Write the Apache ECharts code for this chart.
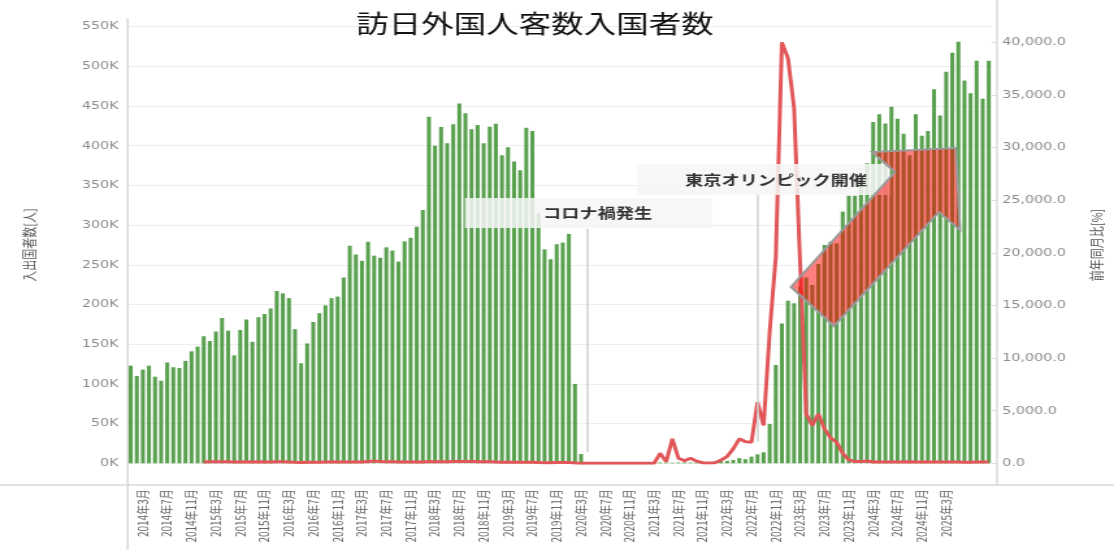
<!DOCTYPE html>
<html>
<head>
<meta charset="utf-8">
<script src="https://cdn.jsdelivr.net/npm/echarts@6/dist/echarts.min.js"></script>
<style>
  html, body { margin: 0; padding: 0; background: #fff; overflow: hidden; }
  /* 元画像は横に引き伸ばされているので、同じ比率で横に伸ばす */
  #main { width: 857px; height: 550px; transform: scaleX(1.2999); transform-origin: 0 0; }
</style>
</head>
<body>
<div id="main"></div>
<script>
// 月（カテゴリ）
const months = [
  '2014年1月','2014年2月','2014年3月','2014年4月','2014年5月','2014年6月','2014年7月','2014年8月','2014年9月','2014年10月','2014年11月','2014年12月',
  '2015年1月','2015年2月','2015年3月','2015年4月','2015年5月','2015年6月','2015年7月','2015年8月','2015年9月','2015年10月','2015年11月','2015年12月',
  '2016年1月','2016年2月','2016年3月','2016年4月','2016年5月','2016年6月','2016年7月','2016年8月','2016年9月','2016年10月','2016年11月','2016年12月',
  '2017年1月','2017年2月','2017年3月','2017年4月','2017年5月','2017年6月','2017年7月','2017年8月','2017年9月','2017年10月','2017年11月','2017年12月',
  '2018年1月','2018年2月','2018年3月','2018年4月','2018年5月','2018年6月','2018年7月','2018年8月','2018年9月','2018年10月','2018年11月','2018年12月',
  '2019年1月','2019年2月','2019年3月','2019年4月','2019年5月','2019年6月','2019年7月','2019年8月','2019年9月','2019年10月','2019年11月','2019年12月',
  '2020年1月','2020年2月','2020年3月','2020年4月','2020年5月','2020年6月','2020年7月','2020年8月','2020年9月','2020年10月','2020年11月','2020年12月',
  '2021年1月','2021年2月','2021年3月','2021年4月','2021年5月','2021年6月','2021年7月','2021年8月','2021年9月','2021年10月','2021年11月','2021年12月',
  '2022年1月','2022年2月','2022年3月','2022年4月','2022年5月','2022年6月','2022年7月','2022年8月','2022年9月','2022年10月','2022年11月','2022年12月',
  '2023年1月','2023年2月','2023年3月','2023年4月','2023年5月','2023年6月','2023年7月','2023年8月','2023年9月','2023年10月','2023年11月','2023年12月',
  '2024年1月','2024年2月','2024年3月','2024年4月','2024年5月','2024年6月','2024年7月','2024年8月','2024年9月','2024年10月','2024年11月','2024年12月',
  '2025年1月','2025年2月','2025年3月','2025年4月','2025年5月','2025年6月','2025年7月','2025年8月','2025年9月','2025年10月'
];

// 表示する目盛りラベル
const tickLabels = [
  '2014年3月','2014年7月','2014年11月','2015年3月','2015年7月','2015年11月','2016年3月','2016年7月','2016年11月',
  '2017年3月','2017年7月','2017年11月','2018年3月','2018年7月','2018年11月','2019年3月','2019年7月','2019年11月',
  '2020年3月','2020年7月','2020年11月','2021年3月','2021年7月','2021年11月','2022年3月','2022年7月','2022年11月',
  '2023年3月','2023年7月','2023年11月','2024年3月','2024年7月','2024年11月','2025年3月'
];

// 入出国者数 [人]
const visitors = [
  123000,110000,118000,123000,109000,104000,127000,121000,120000,129000,141000,147000,
  160000,154000,166000,183000,167000,136000,168000,181000,153000,184000,188000,195000,
  217000,214000,208000,169000,126000,151000,178000,189000,199000,208000,210000,234000,
  274000,263000,255000,279000,261500,259000,272000,268000,254000,279500,284000,298000,
  319000,436500,400000,423600,403000,427000,453000,441000,420600,426000,403000,424000,
  427700,388000,398000,380000,369000,422700,418500,315000,269500,257000,276000,278000,
  289000,100000,11700,300,250,300,400,500,600,700,600,500,
  500,400,500,1000,900,800,1000,1200,900,1100,1500,1600,
  2200,2500,3000,4200,6500,5200,8400,11300,13900,49500,123800,176000,
  204800,201500,223000,234000,224600,251000,275000,279000,277000,317000,337000,337000,
  360000,378000,430000,439500,428000,449000,434000,415000,388000,439500,412600,418500,
  471000,438000,493000,517000,531000,482000,466000,507000,459000,507000
];

// 前年同月比 [%]
const yoy = [
  null,null,null,null,null,null,null,null,null,null,null,null,
  130,140,141,149,153,131,132,150,128,143,133,133,
  136,139,125,92,75,111,106,104,130,113,112,120,
  126,123,123,165,207,172,153,142,128,134,135,127,
  116,166,157,152,154,165,167,165,166,153,142,142,
  134,89,100,90,92,99,92,71,64,60,68,66,
  68,26,3,0.1,0.1,0.1,0.1,0.1,0.1,0.2,0.2,0.1,
  0.2,0.3,4,950,150,2320,480,260,480,200,50,20,
  50,300,650,1370,2320,2060,2000,5810,3600,12500,19600,40000,
  38500,33800,19000,4700,3600,4700,3270,2420,2000,950,320,160,
  176,210,128,130,124,135,129,122,140,130,121,124,
  131,116,115,117,124,111,109,122,119,121
];

const chart = echarts.init(document.getElementById('main'));
const jp = "'Noto Sans CJK JP', sans-serif";

chart.setOption({
  animation: false,
  title: {
    text: '訪日外国人客数入国者数',
    left: 269,
    top: 6,
    textStyle: { fontSize: 25, fontWeight: 'normal', color: '#111', fontFamily: jp }
  },
  grid: { left: 98.2, right: 90.5, top: 26.6, bottom: 86.7 },
  xAxis: {
    type: 'category',
    data: months,
    axisLine: { show: false },
    axisTick: { show: false },
    axisLabel: {
      interval: function (i, v) { return tickLabels.indexOf(v) >= 0; },
      rotate: 90,
      margin: 26,
      fontSize: 10,
      color: '#666',
      fontFamily: jp
    }
  },
  yAxis: [{
    type: 'value',
    min: 0,
    max: 550000,
    interval: 50000,
    name: '入出国者数[人]',
    nameLocation: 'middle',
    nameRotate: 90,
    nameGap: 70,
    nameTextStyle: { fontSize: 11, color: '#555', fontFamily: jp },
    axisLine: { show: false },
    axisTick: { show: false },
    axisLabel: {
      margin: 7,
      fontSize: 11,
      color: '#8c8c8c',
      fontFamily: 'DejaVu Sans',
      formatter: function (v) { return (v / 1000) + 'K'; }
    },
    splitLine: { lineStyle: { color: '#eeeeee', width: 1 } }
  }, {
    type: 'value',
    min: 0,
    max: 41500,
    interval: 5000,
    position: 'right',
    name: '前年同月比[%]',
    nameLocation: 'middle',
    nameRotate: 90,
    nameGap: 75,
    nameTextStyle: { fontSize: 11, color: '#555', fontFamily: jp },
    axisLine: { show: false },
    axisTick: { show: true, length: 4, lineStyle: { color: '#dddddd' } },
    axisLabel: {
      margin: 8,
      fontSize: 11,
      color: '#8c8c8c',
      fontFamily: 'DejaVu Sans',
      showMaxLabel: false,
      formatter: function (v) {
        return v.toLocaleString('en-US', { minimumFractionDigits: 1, maximumFractionDigits: 1 });
      }
    },
    splitLine: { show: false }
  }],
  series: [{
    name: '入出国者数',
    type: 'bar',
    data: visitors,
    barCategoryGap: '35%',
    itemStyle: { color: '#59a14f' },
    markLine: {
      silent: true,
      symbol: 'none',
      label: { show: false },
      lineStyle: { color: '#d0d0d0', width: 1.5, type: 'solid' },
      data: [
        [{ coord: ['2020年4月', 295000] }, { coord: ['2020年4月', 14000] }],
        [{ coord: ['2022年8月', 338000] }, { coord: ['2022年8月', 27000] }]
      ]
    }
  }, {
    name: '前年同月比',
    type: 'line',
    yAxisIndex: 1,
    data: yoy,
    showSymbol: false,
    z: 3,
    lineStyle: { color: '#e15759', width: 3 },
    itemStyle: { color: '#e15759' }
  }],
  graphic: [
    // 枠線
    { type: 'line', shape: { x1: 98.2, y1: 18, x2: 98.2, y2: 550 }, style: { stroke: '#d9d9d9', lineWidth: 1.5 }, z: 1 },
    { type: 'line', shape: { x1: 767, y1: 0, x2: 767, y2: 485 }, style: { stroke: '#d9d9d9', lineWidth: 1.5 }, z: 1 },
    { type: 'line', shape: { x1: 0, y1: 485, x2: 857, y2: 485 }, style: { stroke: '#d9d9d9', lineWidth: 1.5 }, z: 1 },
    // 注釈
    { type: 'rect', shape: { x: 357.7, y: 198, width: 190, height: 30 }, style: { fill: 'rgba(246,246,246,0.85)' }, z: 10 },
    { type: 'text', x: 417.7, y: 213, style: { text: 'コロナ禍発生', fill: '#333', font: "bold 14px 'Noto Sans CJK JP'", verticalAlign: 'middle' }, z: 11 },
    { type: 'rect', shape: { x: 490, y: 164, width: 194.6, height: 31 }, style: { fill: 'rgba(246,246,246,0.85)' }, z: 10 },
    { type: 'text', x: 527, y: 180, style: { text: '東京オリンピック開催', fill: '#333', font: "bold 14px 'Noto Sans CJK JP'", verticalAlign: 'middle' }, z: 11 },
    // 矢印
    {
      type: 'polygon',
      shape: { points: [[608.5, 287], [641.5, 326], [722.3, 212], [738.5, 230], [735.4, 148], [670.8, 152], [688.5, 172]] },
      style: { fill: 'rgba(255,0,0,0.5)', stroke: '#9a9a9a', lineWidth: 2 },
      z: 12
    }
  ]
});
</script>
</body>
</html>
